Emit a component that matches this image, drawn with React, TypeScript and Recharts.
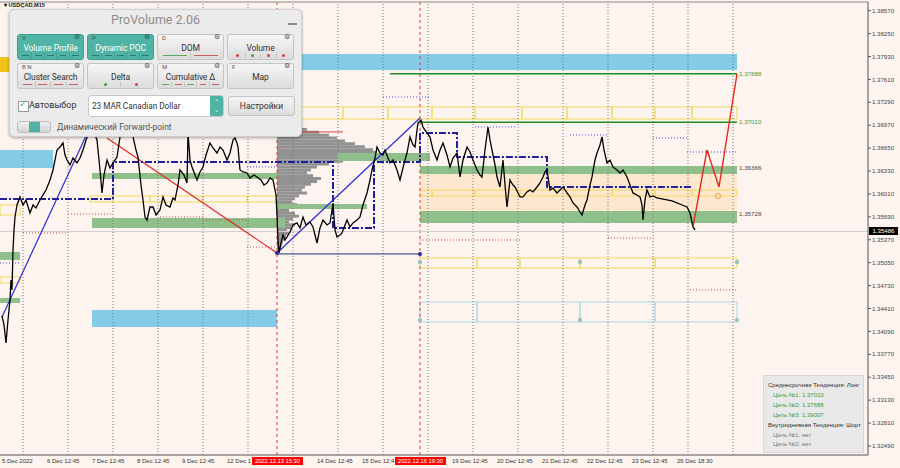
import React from 'react';
import {
  ComposedChart,
  Line,
  XAxis,
  YAxis,
  ReferenceArea,
  ReferenceLine,
  ReferenceDot,
  BarChart,
  Bar,
} from 'recharts';

// time axis is a bar index (one unit ~ 32 min, 45 units per trading day)
const priceTop = 1.38691;
const priceBottom = 1.32364;

const yTicks = [
  1.3857, 1.3825, 1.3793, 1.3761, 1.3729, 1.3697, 1.3665, 1.3633, 1.3601, 1.3569,
  1.3537, 1.3505, 1.3473, 1.3441, 1.3409, 1.3377, 1.3345, 1.3313, 1.3281, 1.3249,
];

// labels partly hidden behind the red session tags are cut where the tag starts
const xTicks = [2, 47, 92, 137, 182, 227, 317, 362, 452, 497, 542, 587, 632, 677];
const xTickLabels = [
  '5 Dec 2022', '6 Dec 12:45', '7 Dec 12:45', '8 Dec 12:45', '9 Dec 12:45', '12 Dec 1',
  '14 Dec 12:45', '15 Dec 12:4', '19 Dec 12:45',
  '20 Dec 12:45', '21 Dec 12:45', '22 Dec 12:45', '23 Dec 12:45', '26 Dec 18:30',
];
const gridTimes = [23, 68, 113, 158, 203, 248, 293, 338, 383, 428, 473, 518, 563, 608, 653, 688, 733];
const sessionMarks = [277, 420];
const sessionTags = ['2022.12.13 15:30', '2022.12.16 19:30'];

// USDCAD M15 closes
const priceWeek1 = [
  [2, 1.34306], [4, 1.3418], [6, 1.33929], [8, 1.3425], [10, 1.34529], [11, 1.34809],
  [12, 1.34669], [13, 1.35228], [14, 1.35507], [15, 1.35688], [17, 1.35856], [20, 1.35968],
  [23, 1.35856], [26, 1.35926], [30, 1.35744], [33, 1.35856], [36, 1.35814], [40, 1.35926],
  [43, 1.35996], [46, 1.36065], [50, 1.36205], [53, 1.36345], [57, 1.36624], [60, 1.36666],
  [63, 1.36722], [65, 1.36554], [67, 1.36484], [70, 1.36415], [73, 1.36512], [77, 1.36443],
  [80, 1.36512], [83, 1.36624], [86, 1.36764], [89, 1.36862], [92, 1.36931], [95, 1.36834],
  [97, 1.36764], [100, 1.36345], [102, 1.36024], [104, 1.36275], [107, 1.36484], [110, 1.36373],
  [113, 1.36443], [117, 1.36526], [120, 1.36806], [124, 1.36862], [127, 1.36834], [130, 1.36903],
  [133, 1.36806], [136, 1.36624], [138, 1.36526], [141, 1.36135], [143, 1.35926], [145, 1.35688],
  [147, 1.35646], [150, 1.35828], [153, 1.35828], [156, 1.35716], [160, 1.35786], [163, 1.35968],
  [166, 1.35856], [170, 1.35828], [173, 1.35954], [175, 1.35926], [178, 1.36135], [180, 1.36345],
  [184, 1.36275], [187, 1.36163], [188, 1.36862], [190, 1.36484], [192, 1.36387], [195, 1.36275],
  [197, 1.36205], [200, 1.36317], [203, 1.36387], [206, 1.36554], [210, 1.36722], [213, 1.36652],
];
const priceWeek2 = [
  [217, 1.36582], [220, 1.36666], [223, 1.36624], [227, 1.36484], [230, 1.36582], [233, 1.36764],
  [235, 1.36792], [237, 1.36722], [238, 1.36666], [240, 1.36345], [243, 1.36317], [247, 1.36303],
  [250, 1.36233], [254, 1.36275], [257, 1.36247], [261, 1.36205], [264, 1.36135], [267, 1.36163],
  [270, 1.36233], [273, 1.36205], [276, 1.35996], [277, 1.35716], [278, 1.35367], [279, 1.35186],
  [281, 1.35325], [283, 1.35437], [285, 1.35367], [287, 1.35409], [290, 1.35479], [293, 1.35577],
  [297, 1.35605], [300, 1.35535], [303, 1.35688], [306, 1.35577], [310, 1.35619], [313, 1.35549],
  [315, 1.35437], [317, 1.35325], [320, 1.35535], [323, 1.35646], [327, 1.35577], [330, 1.35605],
  [332, 1.35786], [333, 1.35884], [335, 1.35507], [337, 1.35409], [340, 1.35437], [342, 1.35465],
  [345, 1.35577], [347, 1.35646], [350, 1.35549], [353, 1.35605], [357, 1.35646], [360, 1.35688],
  [363, 1.35856], [367, 1.36024], [370, 1.36205], [372, 1.36345], [375, 1.36512], [377, 1.36666],
  [380, 1.36582], [383, 1.36554], [385, 1.36624], [388, 1.36512], [390, 1.36443], [393, 1.36484],
  [397, 1.36345], [400, 1.36205], [403, 1.36373], [405, 1.36484], [407, 1.36582], [410, 1.36806],
  [413, 1.36694], [415, 1.36666], [417, 1.36903], [418, 1.37001], [421, 1.37043], [423, 1.36945],
  [425, 1.36903], [427, 1.36862], [430, 1.36806],
];
const priceWeek3 = [
  [433, 1.36624], [437, 1.36484], [440, 1.36624], [443, 1.36722], [447, 1.36554], [450, 1.36387],
  [453, 1.36512], [457, 1.36582], [460, 1.36247], [463, 1.36484], [467, 1.36666], [470, 1.36596],
  [473, 1.36484], [477, 1.36345], [480, 1.36275], [482, 1.36247], [485, 1.36624], [488, 1.36945],
  [490, 1.36764], [492, 1.36624], [495, 1.36415], [497, 1.36247], [500, 1.36107], [503, 1.36484],
  [505, 1.36135], [507, 1.35828], [510, 1.36205], [513, 1.36135], [515, 1.36107], [518, 1.36024],
  [520, 1.35968], [523, 1.35968], [527, 1.36038], [530, 1.36065], [533, 1.36038], [537, 1.36107],
  [540, 1.36163], [543, 1.36247], [545, 1.36317], [547, 1.36345], [550, 1.36065], [553, 1.36093],
  [557, 1.36024], [560, 1.36065], [563, 1.36107], [567, 1.36024], [570, 1.35968], [573, 1.35884],
  [577, 1.35828], [580, 1.35758], [582, 1.35716], [585, 1.35856], [587, 1.35926], [590, 1.36135],
  [592, 1.36247], [595, 1.36484], [597, 1.36582], [600, 1.36694], [602, 1.36806], [604, 1.36624],
  [607, 1.36443], [610, 1.36484], [613, 1.36387], [617, 1.36345], [620, 1.36303], [623, 1.36345],
  [627, 1.36247], [630, 1.36135], [633, 1.36024], [637, 1.35996], [640, 1.35968], [642, 1.35856],
  [643, 1.35646], [645, 1.35926], [647, 1.36065], [650, 1.35968], [653, 1.35982], [657, 1.35954],
  [662, 1.3594], [667, 1.35926], [672, 1.35912], [677, 1.35884], [682, 1.35856], [687, 1.35828],
  [690, 1.35744], [693, 1.35549], [695, 1.35507],
];

const forecast = [[693, 1.35549], [707, 1.36624], [719, 1.36107], [737, 1.37688]];
const dynamicPoc = [
  [0, 1.3594], [113, 1.36457], [333, 1.35535], [374, 1.36457], [420, 1.36862],
  [457, 1.36526], [547, 1.36107], [693, 1.36107],
];
const trendUp1 = [[2, 1.34292], [92, 1.37001]];
const trendUp2 = [[277, 1.35186], [420, 1.37071]];
const trendDown = [[107, 1.36792], [277, 1.35186]];
const lowLine = [[277, 1.35172], [420, 1.35172]];

// zones: [from, to, low, high]
const blueZones = [[300, 737, 1.37741, 1.37965], [0, 53, 1.36373, 1.36624], [92, 277, 1.34152, 1.34389]];
const goldZones = [[0, 10, 1.37713, 1.37923]];
const greenZones = [
  [420, 737, 1.36289, 1.36401], [420, 737, 1.35605, 1.35772], [92, 285, 1.35535, 1.35674],
  [92, 277, 1.36219, 1.36303], [277, 367, 1.358, 1.3587], [337, 430, 1.3647, 1.36582],
  [0, 20, 1.35088, 1.352], [0, 20, 1.34487, 1.34557],
];
const peachZones = [[420, 737, 1.35772, 1.36289]];
const yellowBoxes = [
  [300, 343, 1.37057, 1.37225], [343, 388, 1.37057, 1.37225], [388, 432, 1.37057, 1.37225],
  [432, 475, 1.37057, 1.37225], [475, 522, 1.37057, 1.37225], [522, 567, 1.37057, 1.37225],
  [567, 612, 1.37057, 1.37225], [612, 655, 1.37057, 1.37225], [655, 692, 1.37057, 1.37225],
  [692, 737, 1.37057, 1.37225],
  [90, 113, 1.35898, 1.35982], [113, 150, 1.35898, 1.35982], [150, 203, 1.35898, 1.35982],
  [203, 247, 1.35898, 1.35982], [247, 277, 1.35898, 1.35982],
  [420, 432, 1.35982, 1.36065], [432, 475, 1.35982, 1.36065], [475, 520, 1.35982, 1.36065],
  [520, 567, 1.35982, 1.36065], [567, 612, 1.35982, 1.36065], [612, 655, 1.35982, 1.36065],
  [655, 692, 1.35982, 1.36065], [692, 737, 1.35982, 1.36065],
  [0, 20, 1.35716, 1.35856], [0, 20, 1.34767, 1.3485],
  [420, 477, 1.34976, 1.35116], [477, 520, 1.34976, 1.35116], [520, 580, 1.34976, 1.35116],
  [580, 655, 1.34976, 1.35116], [655, 737, 1.34976, 1.35116],
];
const cyanBoxes = [
  [420, 477, 1.34222, 1.34501], [477, 580, 1.34222, 1.34501],
  [580, 655, 1.34222, 1.34501], [655, 737, 1.34222, 1.34501],
];
const greenLevels = [[390, 737, 1.37688], [420, 737, 1.3701]];
// [from, to, price]
const redDotted = [
  [68, 113, 1.3573], [23, 68, 1.35465], [160, 203, 1.35688], [203, 247, 1.35646],
  [247, 277, 1.35269], [420, 520, 1.35367], [608, 653, 1.35395], [690, 737, 1.34669],
];
const blueDotted = [
  [247, 277, 1.36387], [383, 430, 1.37364], [475, 517, 1.36946], [570, 607, 1.36834],
  [653, 687, 1.36792], [687, 737, 1.36596], [0, 20, 1.35046],
];
const bidPrice = 1.35486;
const levelDots = [[420, 1.3506], [580, 1.3506], [737, 1.3506], [420, 1.3425], [580, 1.3425], [737, 1.3425]];

// volume profile of 13 Dec - 16 Dec
const profileLevels = [
  '1.3732', '1.3728', '1.3724', '1.3720', '1.3716', '1.3712', '1.3708', '1.3704', '1.3700',
  '1.3696', '1.3692', '1.3688', '1.3684', '1.3680', '1.3676', '1.3672', '1.3668', '1.3664',
  '1.3660', '1.3656', '1.3652', '1.3648', '1.3644', '1.3640', '1.3636', '1.3632', '1.3628',
  '1.3624', '1.3620', '1.3616', '1.3612', '1.3608', '1.3604', '1.3600', '1.3596', '1.3592',
  '1.3588', '1.3584', '1.3580', '1.3576', '1.3572', '1.3568', '1.3564', '1.3560', '1.3556',
  '1.3552', '1.3548', '1.3544', '1.3540', '1.3536', '1.3532', '1.3528', '1.3524',
];
const profileVolumes = [
  8, 10, 12, 14, 15, 16, 18, 20, 22, 25, 30, 42, 52, 60, 68, 78, 88, 96, 100, 92, 80, 66, 52,
  40, 34, 30, 36, 44, 40, 34, 28, 25, 30, 22, 18, 15, 20, 16, 12, 18, 22, 16, 12, 18, 14, 10,
  12, 9, 8, 6, 5, 4, 3,
];

const zoneLabels = [
  { price: 1.37688, text: '1.37688', color: '#3d9a3d' },
  { price: 1.3701, text: '1.37010', color: '#3d9a3d' },
  { price: 1.36366, text: '1.36366', color: '#444' },
  { price: 1.35728, text: '1.35728', color: '#444' },
];

const infoLines = [
  { text: 'Среднесрочная Тенденция: Лонг', color: '#333', indent: 0 },
  { text: 'Цель №1: 1.37010', color: '#3d9a3d', indent: 5 },
  { text: 'Цель №2: 1.37688', color: '#3d9a3d', indent: 5 },
  { text: 'Цель №3: 1.39007', color: '#3d9a3d', indent: 5 },
  { text: 'Внутридневная Тенденция: Шорт', color: '#333', indent: 0 },
  { text: 'Цель №1: нет', color: '#777', indent: 5 },
  { text: 'Цель №2: нет', color: '#777', indent: 5 },
];

const teal = '#4fb3a5';
const panelButtons = [
  { label: 'Volume Profile', hot: 'V', active: true, marks: [['dash', '#2c7a6e'], ['dash', '#2c7a6e'], ['dash', '#2c7a6e'], ['dash', '#2c7a6e'], ['dash', '#2c7a6e']] },
  { label: 'Dynamic POC', hot: 'P', active: true, marks: [['dash', '#2c7a6e'], ['dash', '#2c7a6e'], ['dash', '#2c7a6e'], ['dash', '#2c7a6e'], ['dash', '#2c7a6e']] },
  { label: 'DOM', hot: 'D', active: false, marks: [['line', '#5aa85a'], ['line', '#d06060']] },
  { label: 'Volume', hot: '', active: false, marks: [['dot', '#d04040'], ['dot', '#3a9a3a'], ['dot', '#d04040'], ['dot', '#d04040']] },
  { label: 'Cluster Search', hot: 'B  N', active: false, marks: [['dash', '#d06060'], ['dash', '#d06060'], ['dash', '#d06060'], ['dash', '#d06060']] },
  { label: 'Delta', hot: '', active: false, marks: [['dot', '#3a9a3a'], ['dot', '#d04040']] },
  { label: 'Cumulative Δ', hot: 'M', active: false, marks: [['dash', '#5aa85a'], ['dash', '#d06060'], ['dash', '#5aa85a'], ['dash', '#d06060'], ['dash', '#d06060']] },
  { label: 'Map', hot: 'F', active: false, marks: [] },
];

const toPoints = (rows) => rows.map(([t, p]) => ({ t, p }));
const priceData = toPoints([...priceWeek1, ...priceWeek2, ...priceWeek3]);
const profileData = profileLevels.map((level, i) => ({ level, vol: profileVolumes[i] }));

const PLOT_TOP = 2;
const PLOT_H = 453;
const yOf = (p) => PLOT_TOP + ((priceTop - p) / (priceTop - priceBottom)) * PLOT_H;

const chartFont = 'Liberation Sans, Arial, sans-serif';
const uiFont = 'Roboto, "Noto Sans", sans-serif';

const XTick = ({ x, y, payload }) => {
  const i = xTicks.indexOf(payload.value);
  return (
    <text x={x} y={y + 8} fontSize={6} fill="#333" fontFamily={chartFont} textAnchor="start">
      {xTickLabels[i]}
    </text>
  );
};

function PanelButton({ b, left, top }) {
  return (
    <div
      style={{
        position: 'absolute', left, top, width: 67, height: 26, boxSizing: 'border-box',
        borderRadius: 3, border: '1px solid ' + (b.active ? '#3f9f92' : '#c4c4c4'),
        background: b.active ? teal : 'linear-gradient(#f6f6f6, #dcdcdc)',
      }}
    >
      <span style={{ position: 'absolute', left: 4, top: -1, fontSize: 6, color: b.active ? '#1f5f56' : '#555' }}>{b.hot}</span>
      <span style={{ position: 'absolute', right: 3, top: -2, fontSize: 7, color: b.active ? '#1f5f56' : '#555' }}>⚙</span>
      <div
        style={{
          position: 'absolute', left: 0, right: 0, top: 7, textAlign: 'center', fontSize: 8.5,
          lineHeight: '12px', letterSpacing: -0.1, color: b.active ? '#fff' : '#333',
        }}
      >
        {b.label}
      </div>
      <div style={{ position: 'absolute', left: 2, right: 2, bottom: 1, height: 5, display: 'flex' }}>
        {b.marks.map((m, i) => (
          <div
            key={i}
            style={{
              flex: 1, display: 'flex', alignItems: 'center', justifyContent: 'center',
              borderLeft: i ? '1px solid rgba(0,0,0,0.12)' : 'none',
            }}
          >
            {m[0] === 'dot' ? (
              <div style={{ width: 3, height: 3, borderRadius: 2, background: m[1] }} />
            ) : (
              <div style={{ width: m[0] === 'line' ? '80%' : '60%', height: 1, background: m[1] }} />
            )}
          </div>
        ))}
      </div>
    </div>
  );
}

function Panel() {
  return (
    <div
      style={{
        position: 'absolute', left: 9, top: 9, width: 293, height: 128, boxSizing: 'border-box',
        background: '#ebebeb', border: '1px solid #cfcfcf', borderRadius: 5,
        boxShadow: '0 1px 3px rgba(0,0,0,0.35)', fontFamily: uiFont,
      }}
    >
      <div style={{ position: 'absolute', left: 0, right: 0, top: 2, textAlign: 'center', fontSize: 12.5, lineHeight: '16px', color: '#8d8d8d' }}>
        ProVolume 2.06
      </div>
      <div style={{ position: 'absolute', left: 278, top: 13, width: 9, height: 2, background: '#888' }} />
      {panelButtons.map((b, i) => (
        <PanelButton key={b.label} b={b} left={7 + (i % 4) * 70} top={i < 4 ? 24 : 53} />
      ))}
      <div style={{ position: 'absolute', left: 8, top: 91, width: 9, height: 9, background: '#fff', border: '1px solid #999' }}>
        <span style={{ position: 'absolute', left: 0, top: -4, fontSize: 10, color: teal }}>✓</span>
      </div>
      <div style={{ position: 'absolute', left: 19, top: 89, fontSize: 9, lineHeight: '12px', color: '#333' }}>Автовыбор</div>
      <div
        style={{
          position: 'absolute', left: 78, top: 85, width: 136, height: 22, boxSizing: 'border-box',
          background: '#fff', border: '1px solid #c8c8c8', borderRadius: 3,
        }}
      >
        <div style={{ position: 'absolute', left: 3, top: 0, fontSize: 8.2, lineHeight: '20px', color: '#333' }}>23 MAR Canadian Dollar</div>
        <div
          style={{
            position: 'absolute', right: 0, top: 0, width: 13, height: 20, background: teal,
            borderRadius: '0 2px 2px 0', color: '#fff', fontSize: 6, lineHeight: '8px', textAlign: 'center',
          }}
        >
          <div style={{ marginTop: 2 }}>⌃</div>
          <div>⌄</div>
        </div>
      </div>
      <div
        style={{
          position: 'absolute', left: 218, top: 86, width: 67, height: 20, boxSizing: 'border-box',
          background: 'linear-gradient(#f6f6f6, #dcdcdc)', border: '1px solid #c4c4c4', borderRadius: 3,
          textAlign: 'center', fontSize: 8.5, lineHeight: '18px', color: '#333',
        }}
      >
        Настройки
      </div>
      <div
        style={{
          position: 'absolute', left: 7, top: 111, width: 34, height: 12, boxSizing: 'border-box',
          background: 'linear-gradient(#f0f0f0, #d2d2d2)', border: '1px solid #bdbdbd', borderRadius: 3,
        }}
      >
        <div style={{ position: 'absolute', left: 11, top: 0, width: 11, height: 10, background: teal }} />
      </div>
      <div style={{ position: 'absolute', left: 47, top: 111, fontSize: 8.5, lineHeight: '12px', color: '#555' }}>
        Динамический Forward-point
      </div>
    </div>
  );
}

export default function App() {
  const noAnim = { isAnimationActive: false, dot: false, activeDot: false };
  return (
    <div style={{ position: 'absolute', left: 0, top: 0, width: 900, height: 468, background: '#fdf4ef', overflow: 'hidden', fontFamily: chartFont }}>
      <div style={{ position: 'absolute', left: 277, top: yOf(1.3734) }}>
        <BarChart
          layout="vertical"
          width={100}
          height={yOf(1.352) - yOf(1.3734)}
          data={profileData}
          margin={{ top: 0, right: 0, bottom: 0, left: 0 }}
          barCategoryGap={0}
          barGap={0}
        >
          <XAxis type="number" domain={[0, 100]} hide />
          <YAxis type="category" dataKey="level" hide />
          <Bar dataKey="vol" fill="#929292" isAnimationActive={false} />
        </BarChart>
      </div>

      <div style={{ position: 'absolute', left: 0, top: 0 }}>
        <ComposedChart width={900} height={468} margin={{ top: 2, right: 0, bottom: 0, left: 0 }}>
          <XAxis
            dataKey="t"
            type="number"
            domain={[0, 868]}
            allowDataOverflow
            ticks={xTicks}
            interval={0}
            height={13}
            tick={<XTick />}
            tickLine={false}
            tickSize={0}
            tickMargin={0}
            axisLine={{ stroke: '#555' }}
          />
          <YAxis
            orientation="right"
            type="number"
            domain={[priceBottom, priceTop]}
            allowDataOverflow
            ticks={yTicks}
            interval={0}
            width={32}
            tickSize={3}
            tickMargin={1}
            tickLine={{ stroke: '#555' }}
            axisLine={{ stroke: '#555' }}
            tickFormatter={(v) => v.toFixed(5)}
            tick={{ fontSize: 6.1, fill: '#444', fontFamily: chartFont }}
          />

          {peachZones.map(([a, b, lo, hi], i) => (
            <ReferenceArea key={'pz' + i} x1={a} x2={b} y1={lo} y2={hi} fill="#fde8cf" fillOpacity={1} stroke="none" />
          ))}
          {blueZones.map(([a, b, lo, hi], i) => (
            <ReferenceArea key={'bz' + i} x1={a} x2={b} y1={lo} y2={hi} fill="#84cbe8" fillOpacity={1} stroke="none" />
          ))}
          {goldZones.map(([a, b, lo, hi], i) => (
            <ReferenceArea key={'gd' + i} x1={a} x2={b} y1={lo} y2={hi} fill="#f2c418" fillOpacity={1} stroke="none" />
          ))}
          {greenZones.map(([a, b, lo, hi], i) => (
            <ReferenceArea key={'gz' + i} x1={a} x2={b} y1={lo} y2={hi} fill="#8fc08c" fillOpacity={1} stroke="none" />
          ))}
          {yellowBoxes.map(([a, b, lo, hi], i) => (
            <ReferenceArea key={'yb' + i} x1={a} x2={b} y1={lo} y2={hi} fill="none" stroke="#f2d95a" strokeWidth={1} />
          ))}
          {cyanBoxes.map(([a, b, lo, hi], i) => (
            <ReferenceArea key={'cb' + i} x1={a} x2={b} y1={lo} y2={hi} fill="none" stroke="#a8d8e4" strokeWidth={1} />
          ))}

          {gridTimes.map((t) => (
            <ReferenceLine key={'g' + t} x={t} stroke="#777" strokeDasharray="1 2" />
          ))}
          {sessionMarks.map((t) => (
            <ReferenceLine key={'s' + t} x={t} stroke="#e23a3a" strokeDasharray="3 3" />
          ))}
          <ReferenceLine y={priceTop} stroke="#888" />
          <ReferenceLine y={bidPrice} stroke="#cfcfcf" />

          {redDotted.map(([a, b, p], i) => (
            <ReferenceLine key={'rd' + i} segment={[{ x: a, y: p }, { x: b, y: p }]} stroke="#d04a4a" strokeDasharray="1 2" />
          ))}
          {blueDotted.map(([a, b, p], i) => (
            <ReferenceLine key={'bd' + i} segment={[{ x: a, y: p }, { x: b, y: p }]} stroke="#4a4ad8" strokeDasharray="1 2" />
          ))}
          <ReferenceLine segment={[{ x: 278, y: 1.36876 }, { x: 343, y: 1.36876 }]} stroke="#d84040" strokeWidth={1} />
          {greenLevels.map(([a, b, p], i) => (
            <ReferenceLine key={'gl' + i} segment={[{ x: a, y: p }, { x: b, y: p }]} stroke="#238a23" strokeWidth={1.5} />
          ))}

          <Line data={toPoints(lowLine)} dataKey="p" stroke="#2a2a7a" strokeWidth={1} {...noAnim} />
          <Line data={toPoints(trendUp1)} dataKey="p" stroke="#2c2cd6" strokeWidth={1.2} {...noAnim} />
          <Line data={toPoints(trendUp2)} dataKey="p" stroke="#2c2cd6" strokeWidth={1.2} {...noAnim} />
          <Line data={toPoints(trendDown)} dataKey="p" stroke="#e02a2a" strokeWidth={1.2} {...noAnim} />
          <Line
            data={toPoints(dynamicPoc)}
            dataKey="p"
            type="stepAfter"
            stroke="#1e1e9e"
            strokeWidth={2}
            strokeDasharray="7 2 2 2"
            {...noAnim}
          />
          <Line data={priceData} dataKey="p" stroke="#000" strokeWidth={1.3} type="linear" {...noAnim} />
          <Line data={toPoints(forecast)} dataKey="p" stroke="#e8281e" strokeWidth={1.4} {...noAnim} />

          {levelDots.map(([t, p], i) => (
            <ReferenceDot key={'ld' + i} x={t} y={p} r={2.2} fill="#9cc7b6" stroke="none" />
          ))}
          <ReferenceDot x={277} y={1.35186} r={2} fill="#2a2a9a" stroke="none" />
          <ReferenceDot x={420} y={1.35172} r={2} fill="#2a2a9a" stroke="none" />
          <ReferenceDot x={718} y={1.35982} r={2.5} fill="none" stroke="#f0a050" />
        </ComposedChart>
      </div>

      {zoneLabels.map((z) => (
        <div
          key={z.text}
          style={{ position: 'absolute', left: 739, top: yOf(z.price) - 4, fontSize: 6.2, lineHeight: '8px', color: z.color }}
        >
          {z.text}
        </div>
      ))}

      <div
        style={{
          position: 'absolute', left: 869, top: yOf(bidPrice) - 4, width: 29, height: 8, background: '#000',
          color: '#fff', fontSize: 6.1, lineHeight: '8px', textAlign: 'center',
        }}
      >
        {bidPrice.toFixed(5)}
      </div>

      {sessionTags.map((text, i) => (
        <div
          key={text}
          style={{
            position: 'absolute', left: sessionMarks[i] - 25, top: 457, width: 51, height: 8, background: '#f00',
            color: '#fff', fontSize: 5.8, lineHeight: '8px', textAlign: 'center',
          }}
        >
          {text}
        </div>
      ))}

      <div style={{ position: 'absolute', left: 4, top: 2, fontSize: 5.6, lineHeight: '7px', fontWeight: 'bold', color: '#111' }}>
        ▾ USDCAD,M15
      </div>

      <Panel />

      <div
        style={{
          position: 'absolute', left: 763, top: 375, width: 101, height: 78, boxSizing: 'border-box',
          background: '#e9e9e9', border: '1px solid #d6d6d6',
        }}
      >
        {infoLines.map((l, i) => (
          <div
            key={i}
            style={{
              position: 'absolute', left: 4 + l.indent, top: 5 + i * 9.9, fontSize: 6, lineHeight: '8px',
              color: l.color, whiteSpace: 'nowrap',
            }}
          >
            {l.text}
          </div>
        ))}
      </div>
    </div>
  );
}
